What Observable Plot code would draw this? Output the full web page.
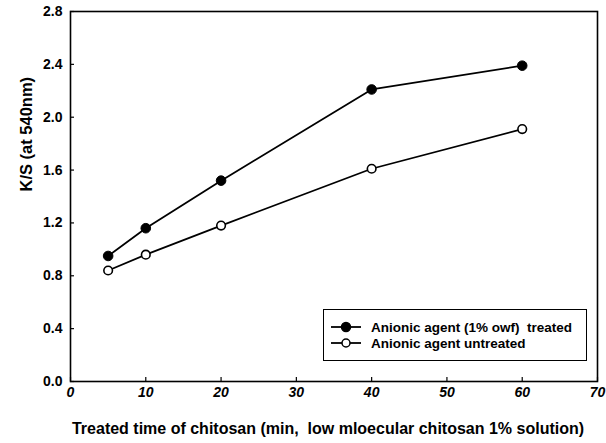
<!DOCTYPE html>
<html><head><meta charset="utf-8">
<script src="https://cdn.jsdelivr.net/npm/d3@7"></script>
<script src="https://cdn.jsdelivr.net/npm/@observablehq/plot@0.6"></script>
<style>
body{margin:0;background:#fff;font-family:"Liberation Sans",Arial,sans-serif}
#wrap{position:relative;width:606px;height:443px}
#legend{position:absolute;left:323px;top:309px;width:264px;height:52px;border:1.5px solid #000;background:#fff;box-sizing:border-box;padding-top:9px;font-size:13.5px;font-weight:bold;color:#000}
.row{display:flex;align-items:center;height:16px}
.row svg{margin-left:6px;margin-right:9px}
</style></head>
<body><div id="wrap"></div>
<script>
const times = [5, 10, 20, 40, 60];
const treated = [0.95, 1.16, 1.52, 2.21, 2.39];
const untreated = [0.84, 0.96, 1.18, 1.61, 1.91];
const xTicks = [0, 10, 20, 30, 40, 50, 60, 70];
const yTicks = [0, 0.4, 0.8, 1.2, 1.6, 2.0, 2.4, 2.8];
const seriesNames = ["Anionic agent (1% owf)\u00a0 treated", "Anionic agent untreated"];
const xLabel = "Treated time of chitosan (min,\u00a0 low mloecular chitosan 1% solution)";
const yLabel = "K/S (at 540nm)";

const rowsT = times.map((t, i) => ({t, v: treated[i]}));
const rowsU = times.map((t, i) => ({t, v: untreated[i]}));

const chart = Plot.plot({
  width: 606, height: 443,
  marginLeft: 70, marginRight: 9, marginTop: 11, marginBottom: 62,
  style: {fontFamily: '"Liberation Sans", Arial, sans-serif', fontSize: "14px", fontWeight: "bold", color: "#000", background: "#fff"},
  x: {domain: [0, 70]},
  y: {domain: [0, 2.8]},
  marks: [
    Plot.axisX({ticks: xTicks, tickSize: -4, tickPadding: 10, fontStyle: "italic", label: null, strokeWidth: 1.2}),
    Plot.axisY({ticks: yTicks, tickSize: -4, tickPadding: 12, tickFormat: d3.format(".1f"), label: null, strokeWidth: 1.2}),
    Plot.frame({stroke: "#000", strokeWidth: 1.6}),
    Plot.line(rowsU, {x: "t", y: "v", stroke: "#000", strokeWidth: 1.8}),
    Plot.line(rowsT, {x: "t", y: "v", stroke: "#000", strokeWidth: 1.8}),
    Plot.dot(rowsU, {x: "t", y: "v", r: 4.3, fill: "#fff", stroke: "#000", strokeWidth: 1.6}),
    Plot.dot(rowsT, {x: "t", y: "v", r: 4.8, fill: "#000", stroke: "#000", strokeWidth: 1}),
    Plot.text([xLabel], {frameAnchor: "bottom", dy: 47, dx: -6, fontSize: 16, fontWeight: "bold", lineAnchor: "middle", fill: "#000"}),
    Plot.text([yLabel], {frameAnchor: "left", rotate: -90, dx: -44, dy: -5, fontSize: 16.5, fontWeight: "bold", fill: "#000"})
  ]
});
document.getElementById("wrap").appendChild(chart);

const legend = document.createElement("div");
legend.id = "legend";
seriesNames.forEach((name, i) => {
  const row = document.createElement("div");
  row.className = "row";
  const filled = i === 0;
  row.innerHTML = `<svg width="32" height="12"><line x1="1" y1="6" x2="31" y2="6" stroke="#000" stroke-width="1.8"/><circle cx="16" cy="6" r="${filled ? 4.5 : 4}" fill="${filled ? "#000" : "#fff"}" stroke="#000" stroke-width="1.5"/></svg><span>${name}</span>`;
  legend.appendChild(row);
});
document.getElementById("wrap").appendChild(legend);
</script></body></html>
